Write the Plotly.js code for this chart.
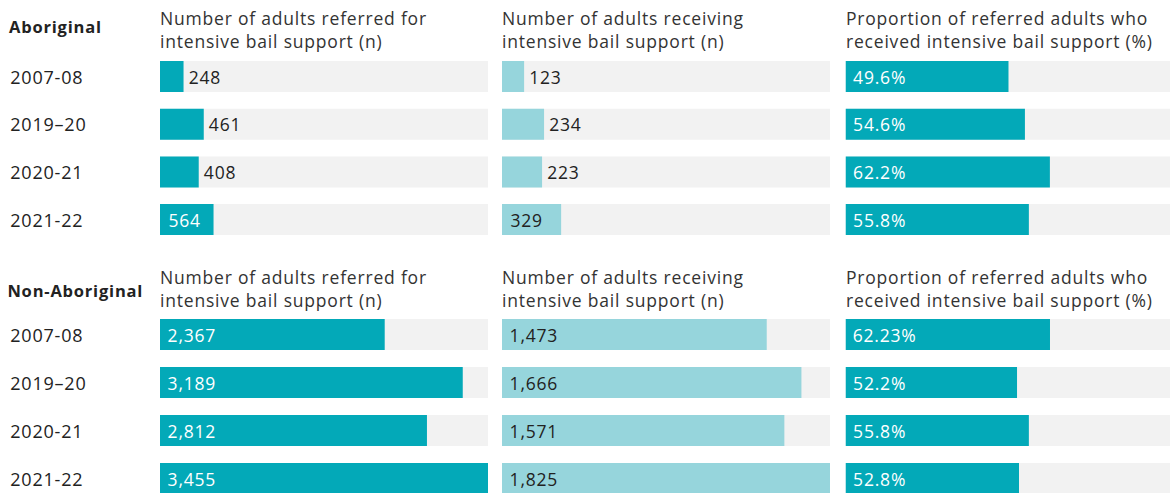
<!DOCTYPE html>
<html>
<head>
<meta charset="utf-8">
<script src="https://cdn.plot.ly/plotly-3.0.1.min.js"></script>
<style>
  html, body { margin: 0; padding: 0; background: #ffffff; }
  #chart { width: 1170px; height: 493px; }
  #chart text { letter-spacing: 0.8px; }
</style>
</head>
<body>
<div id="chart"></div>
<script>
// Financial years shown in every panel
const years = ['2007-08', '2019\u201320', '2020-21', '2021-22'];

// Aboriginal adults
const aborigReferred = [248, 461, 408, 564];
const aborigReceived = [123, 234, 223, 329];
const aborigProportion = [49.6, 54.6, 62.2, 55.8];

// Non-Aboriginal adults
const nonAborigReferred = [2367, 3189, 2812, 3455];
const nonAborigReceived = [1473, 1666, 1571, 1825];
const nonAborigProportion = [62.23, 52.2, 55.8, 52.8];

const groupNames = ['Aboriginal', 'Non-Aboriginal'];
const panelTitles = [
  'Number of adults referred for<br>intensive bail support (n)',
  'Number of adults receiving<br>intensive bail support (n)',
  'Proportion of referred adults who<br>received intensive bail support (%)'
];

const W = 1170, H = 493;
const FONT = 'Open Sans, sans-serif';
const DARK = '#03a9b8';
const LIGHT = '#96d5dc';
const TRACK = '#f2f2f2';
const INK = '#222222';
const SIZE = 17.5;
const LEFT = 11;

// Shared full-scale values per column
const referredMax = Math.max(...aborigReferred, ...nonAborigReferred);
const receivedMax = Math.max(...aborigReceived, ...nonAborigReceived);
const percentMax = 100;

const columns = [
  { color: DARK, textColor: '#ffffff', full: referredMax, fmt: v => v.toLocaleString('en-US'), x0: 160, x1: 488, rangeEnd: referredMax },
  { color: LIGHT, textColor: INK, full: receivedMax, fmt: v => v.toLocaleString('en-US'), x0: 502, x1: 830, rangeEnd: receivedMax },
  { color: DARK, textColor: '#ffffff', full: percentMax, fmt: v => String(v) + '%', x0: 845.5, x1: 1170, rangeEnd: (1170 - 845.5) / 3.286 }
];

const rows = [
  { series: [aborigReferred, aborigReceived, aborigProportion], top: 52.7, bottom: 243.4, range: [3.5, -0.5], titleY: 29, groupY: 27 },
  { series: [nonAborigReferred, nonAborigReceived, nonAborigProportion], top: 310.5, bottom: 493, range: [3.302, -0.5], titleY: 288, groupY: 290 }
];

const data = [];
const layout = {
  width: W, height: H,
  margin: { l: 0, r: 0, t: 0, b: 0 },
  paper_bgcolor: '#ffffff', plot_bgcolor: '#ffffff',
  barmode: 'overlay', bargap: 0.35,
  showlegend: false,
  font: { family: FONT, size: SIZE, color: INK },
  annotations: []
};

rows.forEach((row, r) => {
  columns.forEach((col, c) => {
    const idx = r * 3 + c + 1;
    const xa = idx === 1 ? 'x' : 'x' + idx;
    const ya = idx === 1 ? 'y' : 'y' + idx;
    const vals = row.series[c];
    const outside = vals.map(v => v / col.full < 0.15);

    // grey track behind each bar
    data.push({
      type: 'bar', orientation: 'h', xaxis: xa, yaxis: ya,
      y: years, x: years.map(() => col.full),
      marker: { color: TRACK, line: { width: 0 } },
      hoverinfo: 'skip', textposition: 'none'
    });

    // value bars; short bars carry their label outside
    data.push({
      type: 'bar', orientation: 'h', xaxis: xa, yaxis: ya,
      y: years, x: vals,
      marker: { color: col.color, line: { width: 0 } },
      text: vals.map((v, i) => (outside[i] ? '\u2009' : '\u2009\u2009') + col.fmt(v)),
      textposition: outside.map(o => (o ? 'outside' : 'inside')),
      insidetextanchor: 'start',
      insidetextfont: { family: FONT, size: SIZE, color: col.textColor },
      outsidetextfont: { family: FONT, size: SIZE, color: INK },
      constraintext: 'none',
      cliponaxis: false,
      hoverinfo: 'y+x'
    });

    layout['xaxis' + (idx === 1 ? '' : idx)] = {
      domain: [col.x0 / W, col.x1 / W],
      range: [0, col.rangeEnd],
      anchor: ya,
      showgrid: false, zeroline: false, showticklabels: false, showline: false, ticks: '',
      fixedrange: true
    };
    layout['yaxis' + (idx === 1 ? '' : idx)] = {
      domain: [1 - row.bottom / H, 1 - row.top / H],
      type: 'category', categoryorder: 'array', categoryarray: years,
      range: row.range,
      anchor: xa,
      showgrid: false, zeroline: false, showticklabels: false, showline: false, ticks: '',
      fixedrange: true
    };

    // panel heading
    layout.annotations.push({
      xref: 'paper', yref: 'paper',
      x: (col.x0 - 2) / W, y: 1 - row.titleY / H,
      xanchor: 'left', yanchor: 'middle', align: 'left',
      text: panelTitles[c], showarrow: false,
      font: { family: FONT, size: SIZE, color: '#333333' }
    });
  });

  // group name
  layout.annotations.push({
    xref: 'paper', yref: 'paper',
    x: LEFT / W, y: 1 - row.groupY / H,
    xanchor: 'left', yanchor: 'middle',
    text: '<b>' + groupNames[r] + '</b>', showarrow: false,
    font: { family: FONT, size: 16.5, color: INK }
  });

  // year labels down the left side
  const yref = r === 0 ? 'y' : 'y4';
  years.forEach(yr => {
    layout.annotations.push({
      xref: 'paper', yref: yref,
      x: LEFT / W, y: yr,
      xanchor: 'left', yanchor: 'middle',
      text: yr, showarrow: false,
      font: { family: FONT, size: 18, color: INK }
    });
  });
});

Plotly.newPlot('chart', data, layout, { displayModeBar: false, staticPlot: true });
</script>
</body>
</html>
